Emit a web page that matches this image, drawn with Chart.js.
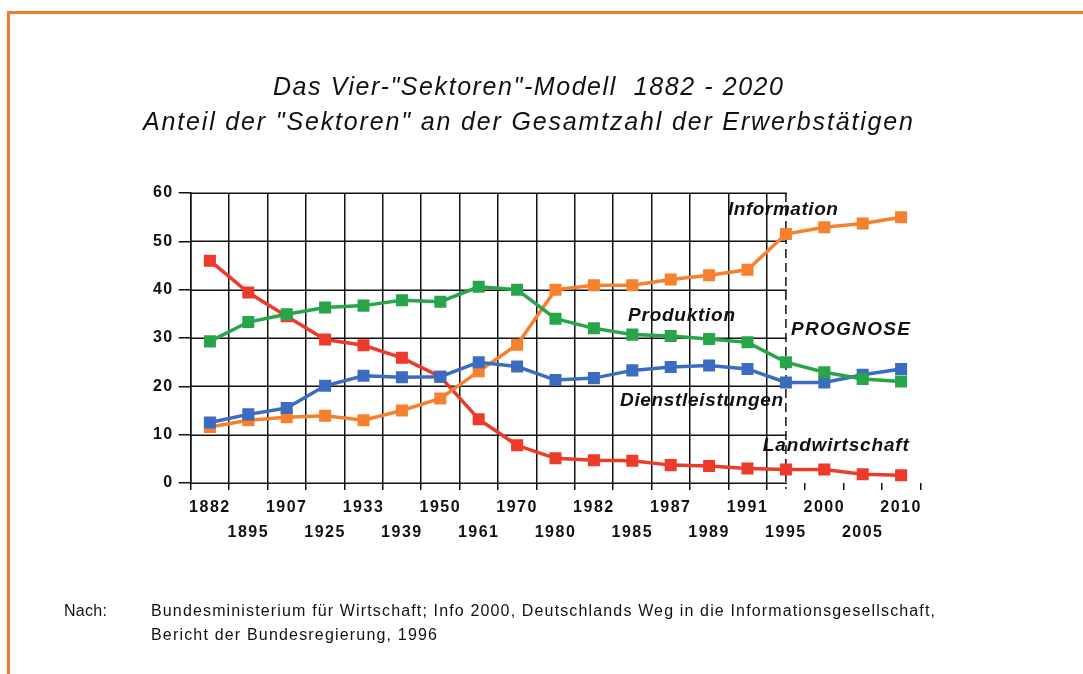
<!DOCTYPE html>
<html><head><meta charset="utf-8">
<script src="https://cdn.jsdelivr.net/npm/chart.js@4.4.1/dist/chart.umd.min.js"></script>
<style>html,body{margin:0;padding:0;background:#fff}#wrap{position:relative;width:1083px;height:674px}</style>
</head><body><div id="wrap"><canvas id="c"></canvas></div>
<script>
// ---- data ----
const years = ['1882','1895','1907','1925','1933','1939','1950','1961','1970','1980','1982','1985','1987','1989','1991','1995','2000','2005','2010'];
const landwirtschaft   = [46.0,39.4,34.5,29.7,28.5,25.9,22.0,13.2,7.8,5.1,4.7,4.6,3.7,3.5,3.0,2.8,2.8,1.8,1.6];
const produktion       = [29.3,33.3,34.9,36.3,36.7,37.8,37.5,40.6,40.0,34.0,32.0,30.7,30.4,29.8,29.1,25.0,22.9,21.5,21.0];
const dienstleistungen = [12.5,14.2,15.5,20.1,22.2,21.9,22.0,25.0,24.1,21.3,21.7,23.3,24.0,24.3,23.6,20.8,20.8,22.4,23.6];
const information      = [11.6,13.0,13.6,13.9,13.0,15.0,17.5,23.1,28.6,40.0,40.9,40.9,42.1,43.0,44.1,51.5,52.9,53.7,55.0];
const yTicks = [0,10,20,30,40,50,60];
const prognoseIndex = 15;
const titleLines = ['Das Vier-"Sektoren"-Modell  1882 - 2020', 'Anteil der "Sektoren" an der Gesamtzahl der Erwerbstätigen'];
const seriesNames = ['Produktion','Dienstleistungen','Information','Landwirtschaft'];
const footerLabel = 'Nach:';
const footerLines = ['Bundesministerium für Wirtschaft; Info 2000, Deutschlands Weg in die Informationsgesellschaft,', 'Bericht der Bundesregierung, 1996'];

// staggered two-row labels
const xLabels = years.map((y, i) => i % 2 === 0 ? [y, ''] : ['', y]);

const COL = {red:'#ec3a2b', green:'#28a44a', blue:'#3c6cc0', orange:'#f5812f'};
const FAM = "'Liberation Sans', Arial, sans-serif";
const NAR = "'Liberation Sans Narrow', 'Liberation Sans', Arial, sans-serif";

function fitText(ctx, text, x, y, width, font) {
  ctx.save();
  ctx.font = font;
  ctx.letterSpacing = '0px';
  const w = ctx.measureText(text).width;
  const n = Math.max(1, text.length - 1);
  ctx.letterSpacing = ((width - w) / n) + 'px';
  ctx.textAlign = 'left';
  ctx.textBaseline = 'middle';
  ctx.fillStyle = '#111';
  ctx.fillText(text, x, y);
  ctx.restore();
}

const decor = {
  id: 'decor',
  beforeDraw(chart) {
    chart.ctx.letterSpacing = '1.5px';
  },
  beforeDatasetsDraw(chart) {
    const {ctx, chartArea, scales} = chart;
    const xs = scales.x, ys = scales.y;
    const xp = xs.getPixelForValue(prognoseIndex);
    ctx.save();
    ctx.strokeStyle = '#111';
    ctx.lineWidth = 1.5;
    yTicks.forEach(v => {
      const y = Math.round(ys.getPixelForValue(v)) + 0.25;
      ctx.beginPath();
      ctx.moveTo(chartArea.left, y);
      ctx.lineTo(xp + 1, y);
      ctx.stroke();
    });
    ctx.setLineDash([9, 5]);
    ctx.beginPath();
    ctx.moveTo(xp, chartArea.top);
    ctx.lineTo(xp, chartArea.bottom + 6);
    ctx.stroke();
    ctx.restore();
  },
  afterDraw(chart) {
    const {ctx, scales} = chart;
    const xs = scales.x, ys = scales.y;
    ctx.save();
    // titles
    fitText(ctx, titleLines[0], 273, 88, 510, "italic 25px " + NAR);
    fitText(ctx, titleLines[1], 143, 123, 770, "italic 25px " + NAR);
    // series annotations (placed in data coordinates)
    const ann = [
      {t: seriesNames[2], i: 13.49, v: 56.5, w: 110},
      {t: seriesNames[0], i: 10.89, v: 34.66, w: 107},
      {t: 'PROGNOSE',     i: 15.13, v: 31.75, w: 119},
      {t: seriesNames[1], i: 10.68, v: 17.0, w: 163},
      {t: seriesNames[3], i: 14.40, v: 7.63, w: 146}
    ];
    ann.forEach(a => fitText(ctx, a.t, xs.getPixelForValue(a.i), ys.getPixelForValue(a.v), a.w, "italic bold 19px " + NAR));
    // footer
    fitText(ctx, footerLabel, 64, 612, 43, "16px " + NAR);
    fitText(ctx, footerLines[0], 151, 612, 784, "16px " + NAR);
    fitText(ctx, footerLines[1], 151, 636, 286, "16px " + NAR);
    // orange frame
    ctx.letterSpacing = '0px';
    ctx.strokeStyle = '#f47a2a';
    ctx.lineWidth = 3;
    ctx.beginPath();
    ctx.moveTo(8.5, 674);
    ctx.lineTo(8.5, 12.5);
    ctx.lineTo(1083, 12.5);
    ctx.stroke();
    ctx.restore();
  }
};

function ds(label, data, color) {
  return {
    label, data,
    borderColor: color, backgroundColor: color,
    borderWidth: 3.5,
    pointStyle: 'rect', pointRadius: 8.5, pointHoverRadius: 8.5,
    pointBorderWidth: 0, pointBackgroundColor: color,
    tension: 0
  };
}

new Chart(document.getElementById('c'), {
  type: 'line',
  data: {
    labels: xLabels,
    datasets: [
      ds(seriesNames[0], produktion, COL.green),
      ds(seriesNames[1], dienstleistungen, COL.blue),
      ds(seriesNames[2], information, COL.orange),
      ds(seriesNames[3], landwirtschaft, COL.red)
    ]
  },
  options: {
    responsive: true,
    maintainAspectRatio: false,
    animation: false,
    events: [],
    layout: {padding: {top: 193, right: 162.7, bottom: 131, left: 0}},
    plugins: {legend: {display: false}, title: {display: false}, tooltip: {enabled: false}},
    scales: {
      x: {
        type: 'category',
        offset: true,
        grid: {
          offset: true,
          lineWidth: 1.5,
          color: c => c.index <= prognoseIndex ? '#111' : 'rgba(0,0,0,0)',
          tickColor: '#111',
          tickLength: 7,
          tickWidth: 1.5
        },
        border: {display: false},
        ticks: {
          autoSkip: false, maxRotation: 0, minRotation: 0,
          padding: 5.5,
          color: '#111',
          font: {family: FAM, size: 16, weight: 'bold', lineHeight: 1.5625}
        },
        afterFit(s) { s.height = 60; }
      },
      y: {
        min: 0, max: 60,
        afterBuildTicks(s) { s.ticks = yTicks.map(v => ({value: v})); },
        grid: {drawOnChartArea: false, tickLength: 12, lineWidth: 1.5, color: '#111'},
        border: {display: true, color: '#111', width: 1.5},
        ticks: {
          padding: 5,
          color: '#111',
          font: {family: FAM, size: 16, weight: 'bold'}
        },
        afterFit(s) { s.width = 190.7; }
      }
    }
  },
  plugins: [decor]
});
</script>
</body></html>
